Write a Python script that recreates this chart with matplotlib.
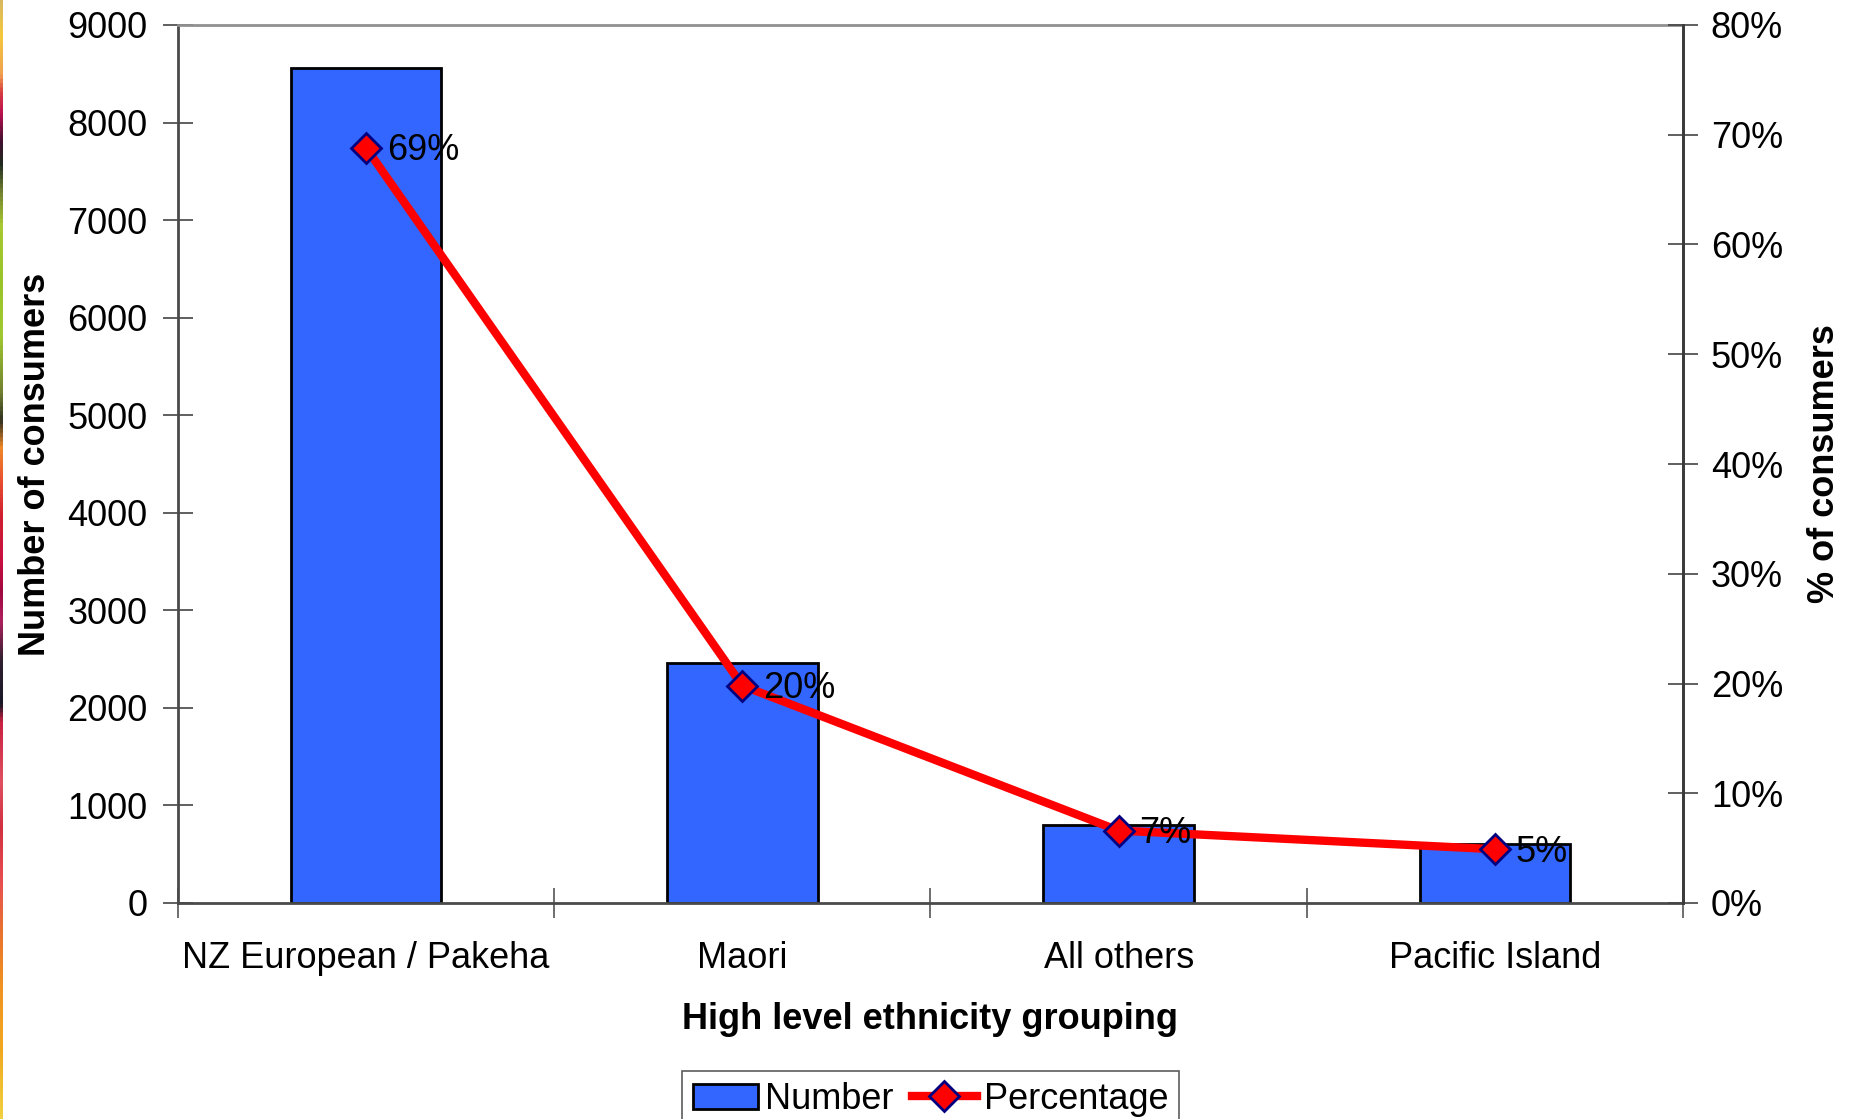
import numpy as np
import matplotlib
matplotlib.use('Agg')
import matplotlib.pyplot as plt
from matplotlib.colors import LinearSegmentedColormap
from matplotlib.lines import Line2D
from matplotlib.patches import Patch
from matplotlib.ticker import FixedLocator, PercentFormatter

groups = ['NZ European / Pakeha', 'Maori', 'All others', 'Pacific Island']
number = [8560, 2460, 800, 605]
percentage = [0.688, 0.198, 0.066, 0.049]

bar_blue = '#3366FF'
line_red = '#FF0000'
navy = '#000080'

plt.rcParams['font.family'] = ['Liberation Sans', 'DejaVu Sans']
plt.rcParams['font.size'] = 26

fig = plt.figure(figsize=(18.56, 11.19), dpi=100)
fig.patch.set_facecolor('white')

# thin coloured strip down the left edge
strip_stops = [
    (0.0, '#D8B860'), (0.03, '#F5C83C'), (0.065, '#F0A050'), (0.08, '#D84040'),
    (0.10, '#B81050'), (0.125, '#401030'), (0.145, '#202A20'), (0.17, '#708030'),
    (0.20, '#A8C830'), (0.25, '#98C428'), (0.30, '#A0C830'), (0.35, '#708030'),
    (0.375, '#303020'), (0.40, '#F08828'), (0.43, '#E85030'), (0.46, '#D02030'),
    (0.50, '#C81040'), (0.53, '#A00840'), (0.555, '#B02060'), (0.59, '#302030'),
    (0.63, '#181828'), (0.645, '#C82040'), (0.70, '#E05060'), (0.74, '#D03040'),
    (0.79, '#E85050'), (0.83, '#E87030'), (0.88, '#F09020'), (0.94, '#F0A820'),
    (1.0, '#F0D040'),
]
strip_cmap = LinearSegmentedColormap.from_list('strip', strip_stops)
sax = fig.add_axes([0, 0, 3 / 1856, 1])
sax.imshow(np.linspace(0, 1, 512).reshape(-1, 1), cmap=strip_cmap, aspect='auto')
sax.axis('off')

ax = fig.add_axes([178 / 1856, 1 - 903 / 1119, (1683 - 178) / 1856, (903 - 25) / 1119])
x = np.arange(len(groups))

ax.bar(x, number, width=0.4, color=bar_blue, edgecolor='black', linewidth=2, zorder=2)
ax.set_xlim(-0.5, len(groups) - 0.5)
ax.set_ylim(0, 9000)
ax.set_yticks(np.arange(0, 9001, 1000))

# tick marks sit between categories, labels sit under the bars
ax.xaxis.set_major_locator(FixedLocator(np.arange(-0.5, len(groups), 1.0)))
ax.set_xticklabels([])
ax.xaxis.set_minor_locator(FixedLocator(x))
ax.set_xticks(x, groups, minor=True)
ax.tick_params(axis='x', which='major', direction='inout', length=22, width=1.2, color='#555555')
ax.tick_params(axis='x', which='minor', length=0, pad=27, labelsize=26)
ax.tick_params(axis='y', direction='inout', length=22, width=1.2, color='#444444', pad=11, labelsize=26)

ax.set_ylabel('Number of consumers', fontsize=26, fontweight='bold', labelpad=10)
ax.set_xlabel('High level ethnicity grouping', fontsize=26, fontweight='bold', labelpad=19)

for side in ['left', 'right', 'bottom']:
    ax.spines[side].set_color('#4a4a4a')
    ax.spines[side].set_linewidth(2)
ax.spines['top'].set_color('#909090')
ax.spines['top'].set_linewidth(2)

ax2 = ax.twinx()
ax2.set_ylim(0, 0.8)
ax2.set_yticks(np.arange(0, 0.81, 0.1))
ax2.yaxis.set_major_formatter(PercentFormatter(1.0, decimals=0))
ax2.tick_params(axis='y', direction='inout', length=22, width=1.2, color='#444444', pad=9, labelsize=26)
ax2.set_ylabel('% of consumers', fontsize=26, fontweight='bold', labelpad=17)
ax2.spines['right'].set_color('#3a3a3a')
ax2.spines['right'].set_linewidth(2)
for side in ['left', 'top', 'bottom']:
    ax2.spines[side].set_visible(False)

ax2.plot(x, percentage, color=line_red, linewidth=6, marker='D', markersize=15,
         markerfacecolor=line_red, markeredgecolor=navy, markeredgewidth=2, zorder=3)
for xi, p in zip(x, percentage):
    ax2.annotate(f'{p * 100:.0f}%', xy=(xi, p), xytext=(15, -2), textcoords='offset points',
                 ha='left', va='center', fontsize=26, zorder=4)

handles = [
    Patch(facecolor=bar_blue, edgecolor='black', linewidth=2, label='Number'),
    Line2D([0], [0], color=line_red, linewidth=6, marker='D', markersize=15,
           markerfacecolor=line_red, markeredgecolor=navy, markeredgewidth=2, label='Percentage'),
]
leg = fig.legend(handles=handles, loc='upper left', bbox_to_anchor=(682 / 1856, 1 - 1071 / 1119),
                 ncol=2, fontsize=26, frameon=True, fancybox=False, edgecolor='#333333',
                 handlelength=1.8, handletextpad=0.2, columnspacing=0.5, borderpad=0.3,
                 borderaxespad=0)
leg.get_frame().set_linewidth(1.2)

fig.savefig('out.png', dpi=100)
